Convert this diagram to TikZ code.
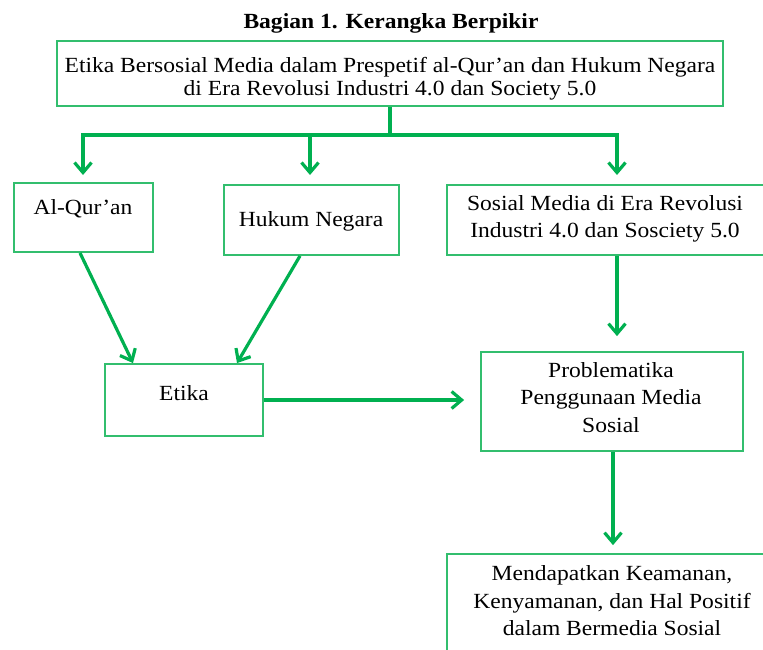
\documentclass[tikz,border=0pt]{standalone}
\usepackage{fontspec}
\setmainfont{Liberation Serif}[FakeStretch=1.09]
\usetikzlibrary{arrows.meta}
\definecolor{arrgreen}{RGB}{0,176,80}
\definecolor{boxgreen}{RGB}{50,190,110}
\begin{document}
\begin{tikzpicture}[x=1pt,y=-1pt,
  boxnode/.style={draw=boxgreen, line width=1.8pt, inner sep=0pt, minimum width=#1},
  txt/.style={inner sep=0pt, align=center, font=\fontsize{21.6}{27.5}\selectfont},
  conn/.style={draw=arrgreen, line width=3.2pt},
  arr/.style={conn, -{Straight Barb[length=10pt,width=17pt,line width=3.2pt]}}]
\useasboundingbox (0,0) rectangle (763,650);
% title
\node[inner sep=0pt, font=\fontsize{21.6}{23}\selectfont\bfseries] (title) at (391,23) {Bagian 1. Kerangka Berpikir};
% boxes
\node[boxnode=666pt, minimum height=65pt] (top) at (390,73.5) {};
\node[boxnode=139pt, minimum height=69pt] (alq) at (83.5,217.5) {};
\node[boxnode=175pt, minimum height=70pt] (huk) at (311.5,220) {};
\node[boxnode=333pt, minimum height=70pt] (sos) at (613.5,220) {};
\node[boxnode=262pt, minimum height=99pt] (prob) at (612,401.5) {};
\node[boxnode=158pt, minimum height=72pt] (eti) at (184,400) {};
\node[boxnode=333pt, minimum height=146pt] (bot) at (613.5,627) {};
% texts
\node[txt, font=\fontsize{21.6}{23}\selectfont] (toptxt) at (390,78.5) {Etika Bersosial Media dalam Prespetif al-Qur’an dan Hukum Negara\\di Era Revolusi Industri 4.0 dan Society 5.0};
\node[txt] (alqtxt) at (83,209) {Al-Qur’an};
\node[txt] (huktxt) at (311,221) {Hukum Negara};
\node[txt] (sostxt) at (605,219) {Sosial Media di Era Revolusi\\Industri 4.0 dan Sosciety 5.0};
\node[txt] (probtxt) at (611,397.5) {Problematika\\Penggunaan Media\\Sosial};
\node[txt] (etitxt) at (184,393) {Etika};
\node[txt] (bottxt) at (612,601) {Mendapatkan Keamanan,\\Kenyamanan, dan Hal Positif\\dalam Bermedia Sosial};
% connectors
\coordinate (j) at (390,135);
\coordinate (t1) at (83,175);
\coordinate (t2) at (310,175);
\coordinate (t3) at (617,175);
\draw[conn] (top.south) -- (j);
\draw[arr] (j) -| (t1);
\draw[arr] (j) -| (t2);
\draw[arr] (j) -| (t3);
\draw[arr] ([xshift=-3.5pt]alq.south) -- ([xshift=-51pt]eti.north);
\draw[arr] ([xshift=-11.5pt]huk.south) -- ([xshift=53pt]eti.north);
\draw[arr] ([xshift=3.5pt]sos.south) -- ([xshift=5pt,yshift=15pt]prob.north);
\draw[arr] (eti.east) -- ([xshift=-16pt,yshift=1.5pt]prob.west);
\draw[arr] ([xshift=1pt]prob.south) -- ([xshift=-0.5pt,yshift=8pt]bot.north);
\end{tikzpicture}
\end{document}
